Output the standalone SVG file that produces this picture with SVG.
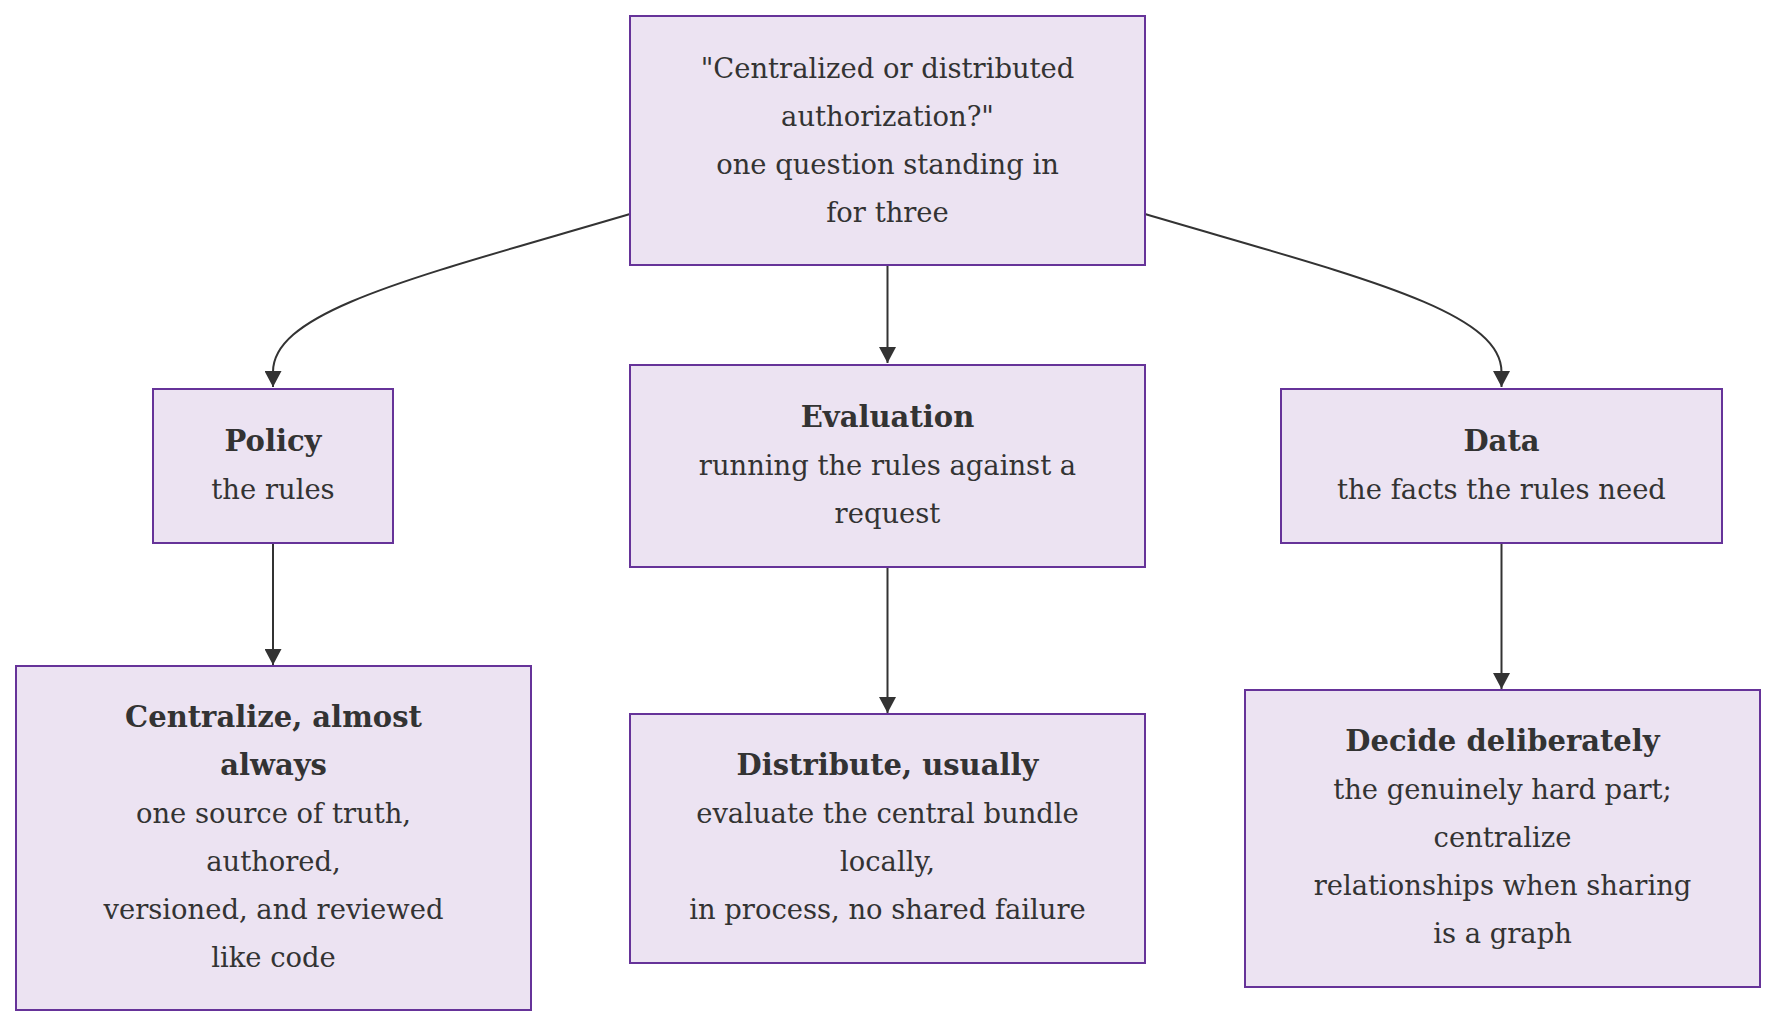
<svg xmlns="http://www.w3.org/2000/svg" width="1792" height="1036" viewBox="0 0 1792 1036">
<defs>
<style>
.box{fill:#ECE3F2;stroke:#663399;stroke-width:2}
.t{font-family:"DejaVu Serif","Liberation Serif",serif;font-size:27.4px;fill:#333;text-anchor:middle}
.b{font-weight:bold;font-size:29px}
.e{fill:none;stroke:#333;stroke-width:2}
</style>
<marker id="arr" markerUnits="userSpaceOnUse" markerWidth="17" markerHeight="17" refX="16" refY="8.5" orient="auto">
<path d="M0,0 L16,8.5 L0,17 Z" fill="#333"/>
</marker>
</defs>
<rect width="1792" height="1036" fill="#fff"/>
<g id="edges">
<path class="e" d="M630,214 C420,276 273,310 273,372 L273,387" marker-end="url(#arr)"/>
<path class="e" d="M1145,214 C1355,276 1501.5,310 1501.5,372 L1501.5,387" marker-end="url(#arr)"/>
<path class="e" d="M887.5,266 L887.5,363" marker-end="url(#arr)"/>
<path class="e" d="M273,544 L273,665" marker-end="url(#arr)"/>
<path class="e" d="M887.5,568 L887.5,713" marker-end="url(#arr)"/>
<path class="e" d="M1501.5,544 L1501.5,689" marker-end="url(#arr)"/>
</g>
<g id="top">
<rect class="box" x="630" y="16" width="515" height="249"/>
<text class="t" x="887.5" y="78">"Centralized or distributed</text>
<text class="t" x="887.5" y="126">authorization?"</text>
<text class="t" x="887.5" y="174">one question standing in</text>
<text class="t" x="887.5" y="222">for three</text>
</g>
<g id="policy">
<rect class="box" x="153" y="389" width="240" height="154"/>
<text class="t b" x="273" y="451">Policy</text>
<text class="t" x="273" y="499">the rules</text>
</g>
<g id="evaluation">
<rect class="box" x="630" y="365" width="515" height="202"/>
<text class="t b" x="887.5" y="427">Evaluation</text>
<text class="t" x="887.5" y="475">running the rules against a</text>
<text class="t" x="887.5" y="523">request</text>
</g>
<g id="data">
<rect class="box" x="1281" y="389" width="441" height="154"/>
<text class="t b" x="1501.5" y="451">Data</text>
<text class="t" x="1501.5" y="499">the facts the rules need</text>
</g>
<g id="centralize">
<rect class="box" x="16" y="666" width="515" height="344"/>
<text class="t b" x="273.5" y="727">Centralize, almost</text>
<text class="t b" x="273.5" y="775">always</text>
<text class="t" x="273.5" y="823">one source of truth,</text>
<text class="t" x="273.5" y="871">authored,</text>
<text class="t" x="273.5" y="919">versioned, and reviewed</text>
<text class="t" x="273.5" y="967">like code</text>
</g>
<g id="distribute">
<rect class="box" x="630" y="714" width="515" height="249"/>
<text class="t b" x="887.5" y="775">Distribute, usually</text>
<text class="t" x="887.5" y="823">evaluate the central bundle</text>
<text class="t" x="887.5" y="871">locally,</text>
<text class="t" x="887.5" y="919">in process, no shared failure</text>
</g>
<g id="decide">
<rect class="box" x="1245" y="690" width="515" height="297"/>
<text class="t b" x="1502.5" y="751">Decide deliberately</text>
<text class="t" x="1502.5" y="799">the genuinely hard part;</text>
<text class="t" x="1502.5" y="847">centralize</text>
<text class="t" x="1502.5" y="895">relationships when sharing</text>
<text class="t" x="1502.5" y="943">is a graph</text>
</g>
</svg>
